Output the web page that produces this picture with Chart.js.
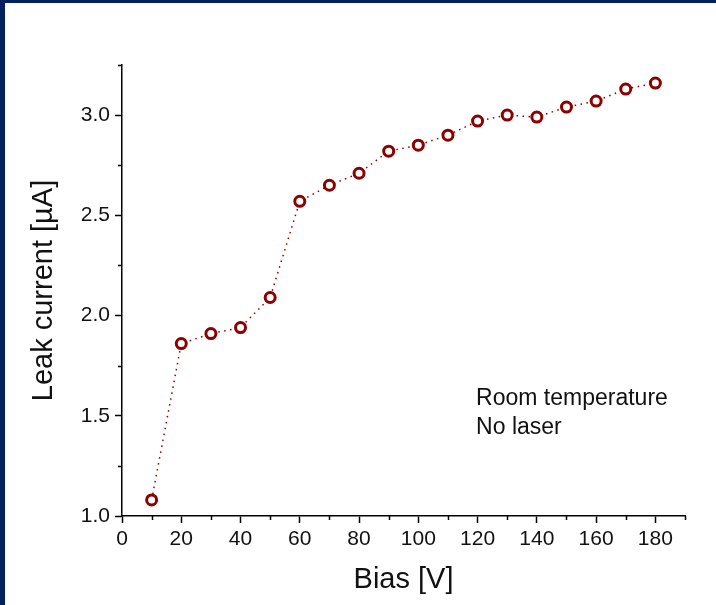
<!DOCTYPE html>
<html>
<head>
<meta charset="utf-8">
<script src="https://cdn.jsdelivr.net/npm/chart.js@4/dist/chart.umd.min.js"></script>
<style>
    html, body {
        margin: 0;
        padding: 0;
        width: 716px;
        height: 605px;
        background: #03215f;
        overflow: hidden;
    }
    #panel {
        position: absolute;
        left: 5px;
        top: 3px;
        width: 711px;
        height: 602px;
        background: #ffffff;
    }
</style>
</head>
<body>
<div id="panel">
    <canvas id="leakChart" width="711" height="602"></canvas>
</div>
<script>
// bias voltage [V] and measured leak current [uA]
const biasVolts = [10, 20, 30, 40, 50, 60, 70, 80, 90, 100, 110, 120, 130, 140, 150, 160, 170, 180];
const leakCurrent = [1.08, 1.86, 1.91, 1.94, 2.09, 2.57, 2.65, 2.71, 2.82, 2.85, 2.90, 2.97, 3.00, 2.99, 3.04, 3.07, 3.13, 3.16];

const xMinorTicks = [10, 30, 50, 70, 90, 110, 130, 150, 170, 190];
const yMinorTicks = [1.25, 1.75, 2.25, 2.75, 3.25];
const noteLines = ['Room temperature', 'No laser'];

const fontFamily = "'Liberation Sans', Arial, sans-serif";
const darkRed = '#8b0000';

// small outward ticks between the labelled ones, plus the text note
const extrasPlugin = {
    id: 'extras',
    afterDraw(chart) {
        const ctx = chart.ctx;
        const xs = chart.scales.x;
        const ys = chart.scales.y;
        ctx.save();
        ctx.strokeStyle = '#000';
        ctx.lineWidth = 1.5;
        ctx.beginPath();
        xMinorTicks.forEach(v => {
            const px = Math.round(xs.getPixelForValue(v)) + 0.5;
            ctx.moveTo(px, ys.bottom);
            ctx.lineTo(px, ys.bottom + 4);
        });
        yMinorTicks.forEach(v => {
            const py = Math.round(ys.getPixelForValue(v)) + 0.5;
            ctx.moveTo(xs.left, py);
            ctx.lineTo(xs.left - 4, py);
        });
        ctx.stroke();

        ctx.fillStyle = '#111';
        ctx.font = '23px ' + fontFamily;
        ctx.textBaseline = 'middle';
        ctx.textAlign = 'left';
        const tx = xs.getPixelForValue(119.5);
        ctx.fillText(noteLines[0], tx, ys.getPixelForValue(1.585));
        ctx.fillText(noteLines[1], tx, ys.getPixelForValue(1.44));
        ctx.restore();
    }
};

const ctx = document.getElementById('leakChart');
const leakChart = new Chart(ctx, {
    type: 'line',
    data: {
        datasets: [{
            data: biasVolts.map((v, i) => ({x: v, y: leakCurrent[i]})),
            borderColor: darkRed,
            borderWidth: 1.5,
            borderDash: [1.5, 4.5],
            fill: false,
            tension: 0,
            pointStyle: 'circle',
            pointRadius: 5,
            pointBorderWidth: 3,
            pointBorderColor: darkRed,
            pointBackgroundColor: '#ffffff'
        }]
    },
    plugins: [extrasPlugin],
    options: {
        responsive: false,
        animation: false,
        layout: {
            padding: {top: 62, right: 31, left: 0, bottom: 0}
        },
        plugins: {
            legend: {display: false},
            tooltip: {enabled: false}
        },
        scales: {
            x: {
                type: 'linear',
                min: 0,
                max: 190,
                afterFit: scale => { scale.height = 89; },
                border: {display: true, color: '#000', width: 1.5},
                grid: {
                    display: true,
                    drawOnChartArea: false,
                    drawTicks: true,
                    tickLength: 7,
                    tickColor: '#000',
                    tickWidth: 1.5
                },
                ticks: {
                    stepSize: 20,
                    includeBounds: false,
                    maxRotation: 0,
                    padding: 4,
                    color: '#111',
                    font: {family: fontFamily, size: 21}
                },
                title: {
                    display: true,
                    text: 'Bias [V]',
                    color: '#111',
                    font: {family: fontFamily, size: 29},
                    padding: {top: 0, bottom: 8}
                }
            },
            y: {
                type: 'linear',
                min: 1,
                max: 3.25,
                afterFit: scale => { scale.width = 117; },
                border: {display: true, color: '#000', width: 1.5},
                grid: {
                    display: true,
                    drawOnChartArea: false,
                    drawTicks: true,
                    tickLength: 7,
                    tickColor: '#000',
                    tickWidth: 1.5
                },
                ticks: {
                    stepSize: 0.5,
                    includeBounds: false,
                    padding: 5,
                    color: '#111',
                    font: {family: fontFamily, size: 21},
                    callback: v => v.toFixed(1)
                },
                title: {
                    display: true,
                    text: 'Leak current [µA]',
                    color: '#111',
                    font: {family: fontFamily, size: 29},
                    padding: {top: 22, bottom: 0}
                }
            }
        }
    }
});
</script>
</body>
</html>
